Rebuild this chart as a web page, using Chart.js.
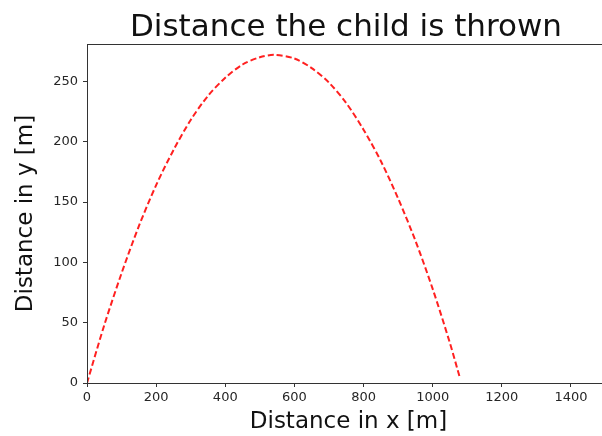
<!DOCTYPE html>
<html>
<head>
<meta charset="utf-8">
<script src="https://cdn.jsdelivr.net/npm/chart.js@4"></script>
<style>
  html, body { margin: 0; padding: 0; background: #fff; overflow: hidden; }
</style>
</head>
<body>
<canvas id="traj" width="620" height="436"></canvas>
<script>
// trajectory
var distX = [0, 50, 100, 150, 200, 250, 300, 350, 400, 450, 500, 542, 600, 650, 700, 750, 800, 850, 900, 950, 1000, 1050, 1078];
var distY = [0, 48, 91, 130, 164, 193, 218, 238, 253, 264, 270, 272, 269, 261, 249, 232, 210, 184, 153, 118, 78, 33, 5];
var xTicks = [0, 200, 400, 600, 800, 1000, 1200, 1400];
var yTicks = [0, 50, 100, 150, 200, 250];

var points = distX.map(function(x, i) { return { x: x, y: distY[i] }; });

var font = "'DejaVu Sans', sans-serif";

// frame all round + title centred over the plot area
var frame = {
  id: 'frame',
  afterDraw: function(chart) {
    var a = chart.chartArea, c = chart.ctx;
    c.save();
    c.strokeStyle = '#333';
    c.lineWidth = 1;
    c.strokeRect(a.left + 0.5, a.top + 0.5, a.right - a.left, a.bottom - a.top);
    c.fillStyle = '#111';
    c.font = '31px ' + font;
    c.textAlign = 'center';
    c.textBaseline = 'alphabetic';
    c.fillText('Distance the child is thrown', 346, 36);
    c.restore();
  }
};

function useTicks(list) {
  return function(s) {
    s.ticks = list.map(function(v) { return { value: v }; });
  };
}

var ctx = document.getElementById('traj').getContext('2d');
var myChart = new Chart(ctx, {
  type: 'line',
  data: {
    datasets: [{
      data: points,
      borderColor: '#ff2020',
      borderWidth: 2,
      borderDash: [6, 3],
      pointRadius: 0,
      fill: false,
      tension: 0.3
    }]
  },
  options: {
    responsive: false,
    animation: false,
    layout: { padding: { left: 0, right: 10, top: 44, bottom: 0 } },
    plugins: {
      legend: { display: false },
      tooltip: { enabled: false },
      title: { display: false }
    },
    scales: {
      x: {
        type: 'linear',
        min: 0,
        max: 1513,
        afterFit: function(s) { s.height = 53; },
        afterBuildTicks: useTicks(xTicks),
        grid: { display: true, drawOnChartArea: false, drawTicks: true, tickLength: 4, color: '#333' },
        border: { display: true, color: '#333' },
        ticks: {
          padding: 3,
          color: '#262626',
          font: { family: font, size: 13 },
          maxRotation: 0,
          autoSkip: false,
          callback: function(v) { return String(v); }
        },
        title: {
          display: true,
          text: 'Distance in x [m]',
          color: '#111',
          font: { family: font, size: 23 },
          padding: { top: 0, bottom: 0 }
        }
      },
      y: {
        type: 'linear',
        min: 0,
        max: 281,
        afterFit: function(s) { s.width = 87; },
        afterBuildTicks: useTicks(yTicks),
        grid: { display: true, drawOnChartArea: false, drawTicks: true, tickLength: 4, color: '#333' },
        border: { display: true, color: '#333' },
        ticks: {
          padding: 5,
          color: '#262626',
          font: { family: font, size: 13 },
          autoSkip: false,
          callback: function(v) { return String(v); }
        },
        title: {
          display: true,
          text: 'Distance in y [m]',
          color: '#111',
          font: { family: font, size: 23 },
          padding: { top: 12, bottom: 4 }
        }
      }
    }
  },
  plugins: [frame]
});
</script>
</body>
</html>
